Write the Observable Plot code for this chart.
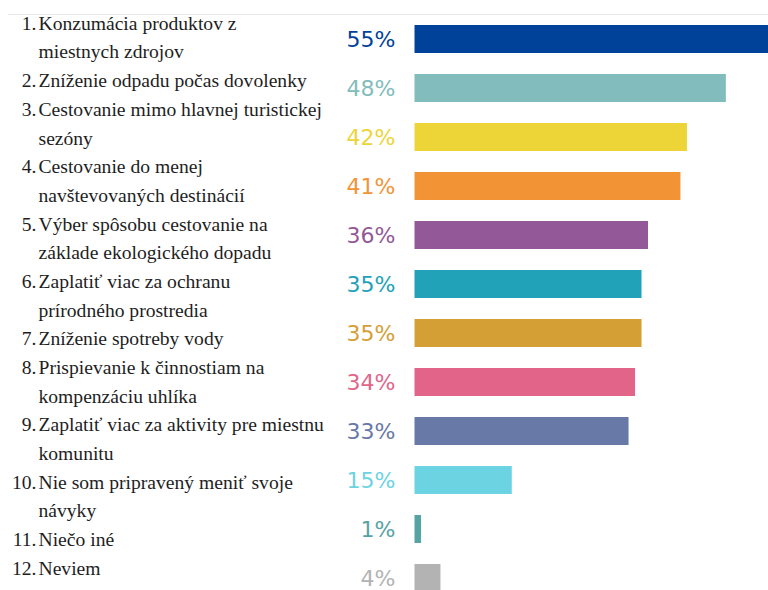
<!DOCTYPE html>
<html>
<head>
<meta charset="utf-8">
<script src="https://cdn.jsdelivr.net/npm/d3@7"></script>
<script src="https://cdn.jsdelivr.net/npm/@observablehq/plot@0.6"></script>
<style>
  html, body { margin: 0; padding: 0; background: #fff; overflow: hidden; }
  #wrap { position: relative; width: 768px; height: 590px; overflow: hidden; }
  #wrap svg { position: absolute; top: 0; left: 0; }
</style>
</head>
<body>
<div id="wrap"></div>
<script>
// Category labels (line breaks as in the reference)
const labels = [
  "Konzumácia produktov z\nmiestnych zdrojov",
  "Zníženie odpadu počas dovolenky",
  "Cestovanie mimo hlavnej turistickej\nsezóny",
  "Cestovanie do menej\nnavštevovaných destinácií",
  "Výber spôsobu cestovanie na\nzáklade ekologického dopadu",
  "Zaplatiť viac za ochranu\nprírodného prostredia",
  "Zníženie spotreby vody",
  "Prispievanie k činnostiam na\nkompenzáciu uhlíka",
  "Zaplatiť viac za aktivity pre miestnu\nkomunitu",
  "Nie som pripravený meniť svoje\nnávyky",
  "Niečo iné",
  "Neviem"
];
// Percent values
const values = [55, 48, 42, 41, 36, 35, 35, 34, 33, 15, 1, 4];
// Bar colours
const colors = ["#00419a", "#82bcbc", "#edd437", "#f29336", "#925898", "#22a2b8",
                "#d4a035", "#e26589", "#6878a7", "#6cd3e2", "#55a3a3", "#b3b3b3"];

const data = values.map((v, i) => ({i, value: v, label: labels[i]}));

// Build the text lines for the left list
const lines = [];
labels.forEach((lab, i) => {
  lab.split("\n").forEach((t, k) => {
    lines.push({line: lines.length, text: t, num: k === 0 ? (i + 1) + "." : null});
  });
});

const wrap = document.getElementById("wrap");

const labelPlot = Plot.plot({
  width: 768,
  height: 590,
  marginTop: 14,
  marginLeft: 8,
  marginRight: 0,
  marginBottom: 0,
  x: {axis: null, domain: [0, 1]},
  y: {axis: null, domain: [0, lines.length - 1], range: [23, 568]},
  marks: [
    Plot.frame({anchor: "top", stroke: "#e8e8e8"}),
    Plot.text(lines.filter(d => d.num), {
      y: "line", text: "num", frameAnchor: "left", textAnchor: "end", dx: 28,
      fontFamily: "Liberation Serif", fontSize: 19.6, fill: "#1e1e1e"
    }),
    Plot.text(lines, {
      y: "line", text: "text", frameAnchor: "left", textAnchor: "start", dx: 30,
      fontFamily: "Liberation Serif", fontSize: 19.6, fill: "#1e1e1e"
    })
  ]
});

const barPlot = Plot.plot({
  width: 768,
  height: 603,
  marginLeft: 414.5,
  marginRight: 0,
  marginTop: 14.5,
  marginBottom: 0,
  x: {axis: null, domain: [0, 54.5]},
  y: {axis: null, domain: d3.range(values.length), paddingInner: 0.42, paddingOuter: 0.21},
  color: {type: "ordinal", domain: d3.range(values.length), range: colors},
  marks: [
    Plot.barX(data, {x: "value", y: "i", fill: "i"}),
    Plot.text(data, {
      y: "i", text: d => d.value + "%", fill: "i",
      frameAnchor: "left", textAnchor: "end", dx: -19.5,
      fontFamily: "DejaVu Sans", fontSize: 22
    })
  ]
});

wrap.appendChild(labelPlot);
wrap.appendChild(barPlot);
</script>
</body>
</html>
